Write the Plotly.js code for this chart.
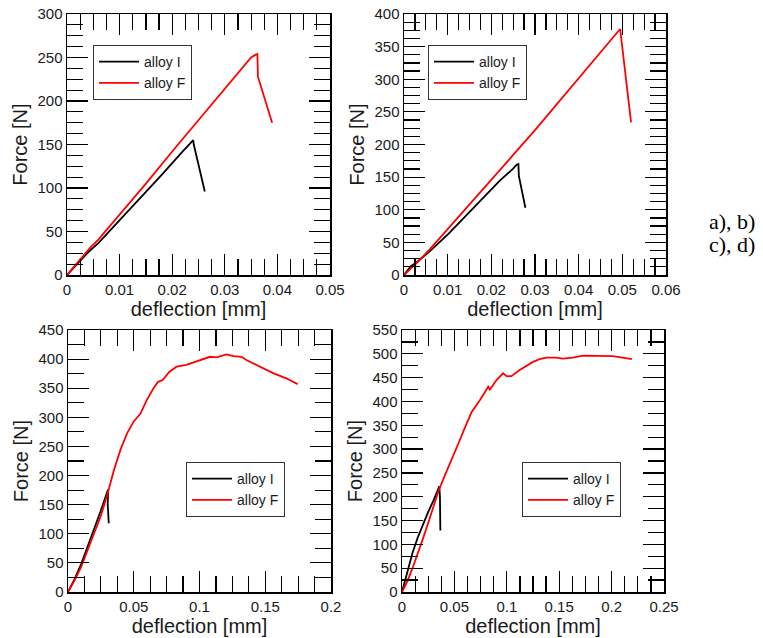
<!DOCTYPE html>
<html>
<head>
<meta charset="utf-8">
<script src="https://cdn.plot.ly/plotly-3.0.1.min.js"></script>
<style>html,body{margin:0;padding:0;background:#fff;}#chart{width:763px;height:638px;}</style>
</head>
<body>
<div id="chart"></div>
<script>
// ---- Data (deflection [mm], force [N]) ----
// Panel a
const aI_x = [0, 0.002, 0.004, 0.006, 0.008, 0.010, 0.014, 0.018, 0.022, 0.0235, 0.0240, 0.0241, 0.0262];
const aI_y = [0, 13, 26, 37, 50, 62, 88, 115, 142, 152, 155, 150, 96];
const aF_x = [0, 0.002, 0.004, 0.0045, 0.006, 0.010, 0.015, 0.020, 0.025, 0.030, 0.035, 0.0358, 0.0362, 0.0363, 0.0390];
const aF_y = [0, 14, 28, 32, 41, 69, 105, 142, 178, 215, 250, 253, 254, 228, 175];
// Panel b
const bI_x = [0, 0.001, 0.0015, 0.003, 0.006, 0.010, 0.014, 0.018, 0.022, 0.025, 0.0258, 0.0262, 0.0263, 0.0278];
const bI_y = [0, 9, 13, 20, 37, 62, 90, 117, 145, 163, 169, 170, 152, 103];
const bF_x = [0, 0.003, 0.006, 0.010, 0.015, 0.020, 0.025, 0.030, 0.035, 0.040, 0.045, 0.0495, 0.0520];
const bF_y = [0, 19, 40, 70, 108, 146, 184, 222, 262, 302, 342, 377, 234];
// Panel c
const cI_x = [0, 0.005, 0.010, 0.015, 0.020, 0.025, 0.030, 0.0305, 0.0302, 0.0310];
const cI_y = [0, 22, 48, 78, 108, 140, 173, 176, 150, 118];
const cF_x = [0, 0.005, 0.010, 0.015, 0.020, 0.025, 0.030, 0.035, 0.040, 0.045, 0.050, 0.055, 0.060, 0.065, 0.0685, 0.072, 0.077, 0.0825, 0.090, 0.100, 0.108, 0.113, 0.1205, 0.126, 0.132, 0.136, 0.143, 0.151, 0.156, 0.166, 0.1746];
const cF_y = [0, 20, 43, 72, 100, 131, 168, 210, 245, 273, 293, 306, 330, 350, 361, 364, 378, 387, 390, 398, 404, 403, 408, 405, 404, 398, 390, 381, 376, 367, 357];
// Panel d
const dI_x = [0, 0.003, 0.006, 0.010, 0.015, 0.020, 0.025, 0.030, 0.035, 0.0356, 0.0362, 0.0366];
const dI_y = [0, 25, 52, 82, 114, 142, 168, 192, 218, 222, 200, 129];
const dF_x = [0, 0.005, 0.010, 0.015, 0.020, 0.025, 0.030, 0.035, 0.040, 0.045, 0.050, 0.055, 0.060, 0.0665, 0.0744, 0.0823, 0.0839, 0.0902, 0.0965, 0.0997, 0.1044, 0.1123, 0.125, 0.1313, 0.1377, 0.147, 0.1535, 0.163, 0.1725, 0.188, 0.201, 0.2104, 0.2193];
const dF_y = [0, 22, 50, 80, 112, 145, 180, 213, 240, 265, 292, 318, 345, 378, 403, 431, 425, 445, 459, 453, 453, 466, 483, 489, 492, 492, 490, 492, 496, 496, 495, 492, 489];

const seriesNames = ["alloy I", "alloy F"];
const panelLabels = ["a), b)", "c), d)"];
const xTitle = "deflection [mm]";
const yTitle = "Force [N]";

// ---- Styling / layout ----
const W = 763, H = 638;
const FONT = "Liberation Sans, Arial, sans-serif";
const TXT = "#1a1a1a";
function xd(l, r) { return [l / W, r / W]; }
function yd(t, b) { return [1 - b / H, 1 - t / H]; }

function mkTraces(ix, iy, fx, fy, xa, ya, leg) {
  return [
    {x: ix, y: iy, type: "scatter", mode: "lines", name: seriesNames[0],
     line: {color: "#000000", width: 1.8}, xaxis: xa, yaxis: ya, legend: leg},
    {x: fx, y: fy, type: "scatter", mode: "lines", name: seriesNames[1],
     line: {color: "#ff0000", width: 1.8}, xaxis: xa, yaxis: ya, legend: leg}
  ];
}
const data = [].concat(
  mkTraces(aI_x, aI_y, aF_x, aF_y, "x", "y", "legend"),
  mkTraces(bI_x, bI_y, bF_x, bF_y, "x2", "y2", "legend2"),
  mkTraces(cI_x, cI_y, cF_x, cF_y, "x3", "y3", "legend3"),
  mkTraces(dI_x, dI_y, dF_x, dF_y, "x4", "y4", "legend4")
);

function ax(dom, range, dtick, minor, anchor, title, standoff) {
  return {
    domain: dom, range: range, dtick: dtick, tick0: 0, anchor: anchor,
    showgrid: false, zeroline: false, showline: true, linecolor: "#000", linewidth: 1.5,
    mirror: "ticks", ticks: "inside", ticklen: 21, tickwidth: 1.2, tickcolor: "#000",
    minor: {dtick: minor, tick0: 0, ticks: "inside", ticklen: 16, tickwidth: 1.2, tickcolor: "#000"},
    tickfont: {family: FONT, size: 15, color: TXT},
    title: {text: title, font: {family: FONT, size: 20, color: TXT}, standoff: standoff},
    automargin: false
  };
}
function leg(x, y) {
  return {
    x: x / W, y: 1 - y / H, xanchor: "left", yanchor: "top",
    bgcolor: "#ffffff", bordercolor: "#333", borderwidth: 1,
    font: {family: FONT, size: 14, color: TXT}, tracegroupgap: 0, itemwidth: 40
  };
}
const layout = {
  width: W, height: H,
  margin: {l: 0, r: 0, t: 0, b: 0},
  showlegend: true,
  plot_bgcolor: "#ffffff", paper_bgcolor: "#ffffff",
  xaxis:  ax(xd(67, 330),  [0, 0.05], 0.01, 0.0025, "y",  xTitle, 0),
  yaxis:  ax(yd(14, 275),  [0, 300],  50,   12.5,   "x",  yTitle, 4),
  xaxis2: ax(xd(404, 666), [0, 0.06], 0.01, 0.0025, "y2", xTitle, 0),
  yaxis2: ax(yd(14, 275),  [0, 400],  50,   12.5,   "x2", yTitle, 4),
  xaxis3: ax(xd(68, 331),  [0, 0.2],  0.05, 0.0125, "y3", xTitle, 1),
  yaxis3: ax(yd(330, 592), [0, 450],  50,   25,     "x3", yTitle, 4),
  xaxis4: ax(xd(402, 664), [0, 0.25], 0.05, 0.0125, "y4", xTitle, 1),
  yaxis4: ax(yd(330, 592), [0, 550],  50,   25,     "x4", yTitle, 4),
  legend:  leg(93, 45),
  legend2: leg(428, 45),
  legend3: leg(186, 462),
  legend4: leg(522, 462),
  annotations: [
    {text: panelLabels[0], xref: "paper", yref: "paper", x: 732 / W, y: 1 - 222 / H,
     xanchor: "center", yanchor: "middle", showarrow: false,
     font: {family: "Liberation Serif, Times New Roman, serif", size: 22, color: "#000"}},
    {text: panelLabels[1], xref: "paper", yref: "paper", x: 732 / W, y: 1 - 245 / H,
     xanchor: "center", yanchor: "middle", showarrow: false,
     font: {family: "Liberation Serif, Times New Roman, serif", size: 22, color: "#000"}}
  ]
};
Plotly.newPlot("chart", data, layout, {displayModeBar: false, staticPlot: true});
</script>
</body>
</html>
